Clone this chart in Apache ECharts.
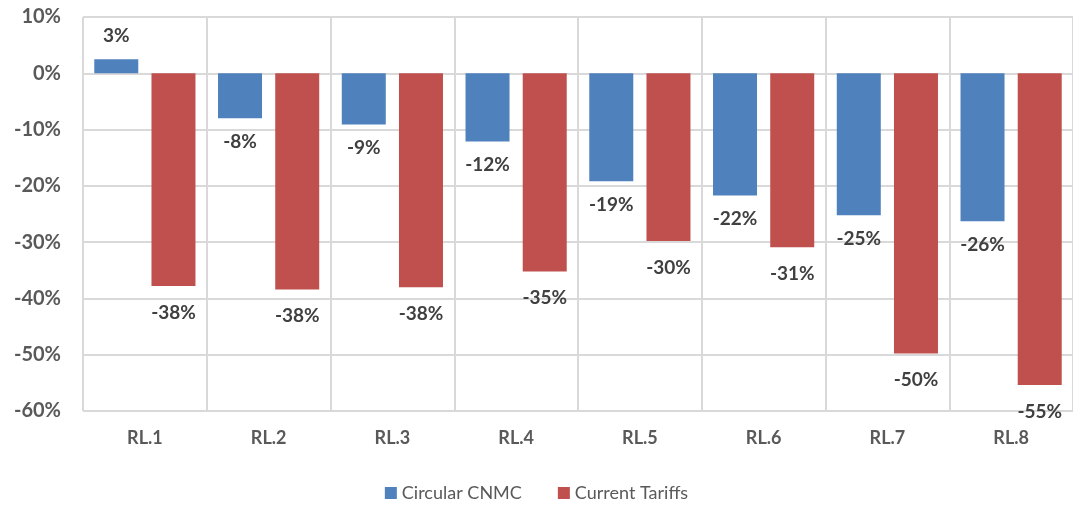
<!DOCTYPE html>
<html>
<head>
<meta charset="utf-8">
<script src="https://cdn.jsdelivr.net/npm/echarts@6/dist/echarts.min.js"></script>
<style>
  html, body { margin: 0; padding: 0; background: #fff; }
  #chart { width: 1073px; height: 506px; }
</style>
</head>
<body>
<div id="chart"></div>
<script>
// categories and values (percent)
const categories = ['RL.1', 'RL.2', 'RL.3', 'RL.4', 'RL.5', 'RL.6', 'RL.7', 'RL.8'];
const circularCnmc = [2.5, -8.0, -9.1, -12.1, -19.2, -21.7, -25.2, -26.3];
const currentTariffs = [-37.8, -38.4, -38.0, -35.2, -29.8, -30.9, -49.8, -55.4];
const yTicks = [10, 0, -10, -20, -30, -40, -50, -60];

const fontFamily = 'Lato, "Open Sans", "Liberation Sans", sans-serif';

// label goes above positive bars, below negative ones
function withLabels(values) {
  return values.map(v => ({
    value: v,
    label: { position: v >= 0 ? 'top' : 'bottom' }
  }));
}

const chart = echarts.init(document.getElementById('chart'));
const option = {
  animation: false,
  textStyle: { fontFamily: fontFamily },
  grid: {
    left: 83,
    top: 17,
    width: 995,
    bottom: 95
  },
  legend: {
    bottom: -1,
    left: 'center',
    itemWidth: 12,
    itemHeight: 12,
    itemGap: 36,
    icon: 'rect',
    textStyle: { fontSize: 18, color: '#595959', fontFamily: fontFamily },
    data: ['Circular CNMC', 'Current Tariffs']
  },
  xAxis: {
    type: 'category',
    data: categories,
    axisLine: { show: false },
    axisTick: { show: false },
    splitLine: { show: true, lineStyle: { color: '#d9d9d9', width: 2 } },
    axisLabel: {
      fontSize: 18,
      fontWeight: 'bold',
      color: '#595959',
      margin: 18,
      fontFamily: fontFamily
    }
  },
  yAxis: {
    type: 'value',
    min: yTicks[yTicks.length - 1],
    max: yTicks[0],
    interval: 10,
    axisLine: { show: false },
    axisTick: { show: false },
    splitLine: { lineStyle: { color: '#d9d9d9', width: 2 } },
    axisLabel: {
      fontSize: 20,
      fontWeight: 'bold',
      color: '#595959',
      margin: 22,
      formatter: v => v + '%',
      fontFamily: fontFamily
    }
  },
  series: [
    {
      name: 'Circular CNMC',
      type: 'bar',
      barWidth: 44,
      barGap: '30%',
      itemStyle: { color: '#4f81bd' },
      label: {
        show: true,
        distance: 14,
        fontSize: 19,
        fontWeight: 'bold',
        color: '#404040',
        fontFamily: fontFamily,
        formatter: p => Math.round(p.value) + '%'
      },
      data: withLabels(circularCnmc)
    },
    {
      name: 'Current Tariffs',
      type: 'bar',
      barWidth: 44,
      barGap: '30%',
      itemStyle: { color: '#c0504d' },
      label: {
        show: true,
        distance: 17,
        fontSize: 19,
        fontWeight: 'bold',
        color: '#404040',
        fontFamily: fontFamily,
        formatter: p => Math.round(p.value) + '%'
      },
      data: withLabels(currentTariffs)
    }
  ]
};
chart.setOption(option);
</script>
</body>
</html>
